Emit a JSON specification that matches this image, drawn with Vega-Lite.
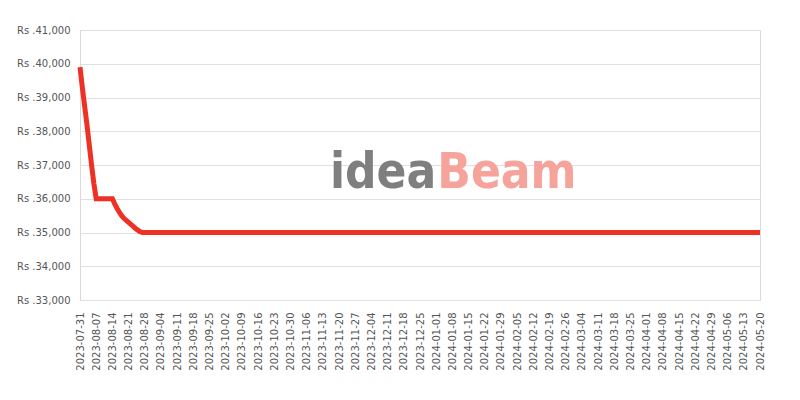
{
  "$schema": "https://vega.github.io/schema/vega-lite/v6.json",
  "width": 680,
  "height": 270,
  "autosize": {"type": "none"},
  "padding": {"left": 80, "top": 30, "right": 40, "bottom": 100},
  "config": {
    "view": {"stroke": "#d9d9d9", "strokeWidth": 1},
    "font": "DejaVu Sans",
    "axis": {"labelFont": "DejaVu Sans", "labelColor": "#555555", "labelFontSize": 10}
  },
  "datasets": {
    "prices": [
      {"date": "2023-07-31T00:00:00", "price": 39900},
      {"date": "2023-08-01T00:00:00", "price": 39300},
      {"date": "2023-08-02T00:00:00", "price": 38750},
      {"date": "2023-08-03T00:00:00", "price": 38200},
      {"date": "2023-08-04T00:00:00", "price": 37600},
      {"date": "2023-08-05T00:00:00", "price": 37000},
      {"date": "2023-08-06T00:00:00", "price": 36450},
      {"date": "2023-08-07T00:00:00", "price": 36000},
      {"date": "2023-08-08T00:00:00", "price": 36000},
      {"date": "2023-08-10T00:00:00", "price": 36000},
      {"date": "2023-08-12T00:00:00", "price": 36000},
      {"date": "2023-08-14T00:00:00", "price": 36000},
      {"date": "2023-08-15T00:00:00", "price": 35850},
      {"date": "2023-08-16T00:00:00", "price": 35720},
      {"date": "2023-08-17T00:00:00", "price": 35600},
      {"date": "2023-08-18T00:00:00", "price": 35500},
      {"date": "2023-08-19T00:00:00", "price": 35420},
      {"date": "2023-08-20T00:00:00", "price": 35360},
      {"date": "2023-08-21T00:00:00", "price": 35300},
      {"date": "2023-08-22T00:00:00", "price": 35240},
      {"date": "2023-08-23T00:00:00", "price": 35180},
      {"date": "2023-08-24T00:00:00", "price": 35120},
      {"date": "2023-08-25T00:00:00", "price": 35070},
      {"date": "2023-08-26T00:00:00", "price": 35020},
      {"date": "2023-08-27T00:00:00", "price": 35000},
      {"date": "2023-08-28T00:00:00", "price": 35000},
      {"date": "2023-09-04T00:00:00", "price": 35000},
      {"date": "2023-09-11T00:00:00", "price": 35000},
      {"date": "2023-09-18T00:00:00", "price": 35000},
      {"date": "2023-09-25T00:00:00", "price": 35000},
      {"date": "2023-10-02T00:00:00", "price": 35000},
      {"date": "2023-10-09T00:00:00", "price": 35000},
      {"date": "2023-10-16T00:00:00", "price": 35000},
      {"date": "2023-10-23T00:00:00", "price": 35000},
      {"date": "2023-10-30T00:00:00", "price": 35000},
      {"date": "2023-11-06T00:00:00", "price": 35000},
      {"date": "2023-11-13T00:00:00", "price": 35000},
      {"date": "2023-11-20T00:00:00", "price": 35000},
      {"date": "2023-11-27T00:00:00", "price": 35000},
      {"date": "2023-12-04T00:00:00", "price": 35000},
      {"date": "2023-12-11T00:00:00", "price": 35000},
      {"date": "2023-12-18T00:00:00", "price": 35000},
      {"date": "2023-12-25T00:00:00", "price": 35000},
      {"date": "2024-01-01T00:00:00", "price": 35000},
      {"date": "2024-01-08T00:00:00", "price": 35000},
      {"date": "2024-01-15T00:00:00", "price": 35000},
      {"date": "2024-01-22T00:00:00", "price": 35000},
      {"date": "2024-01-29T00:00:00", "price": 35000},
      {"date": "2024-02-05T00:00:00", "price": 35000},
      {"date": "2024-02-12T00:00:00", "price": 35000},
      {"date": "2024-02-19T00:00:00", "price": 35000},
      {"date": "2024-02-26T00:00:00", "price": 35000},
      {"date": "2024-03-04T00:00:00", "price": 35000},
      {"date": "2024-03-11T00:00:00", "price": 35000},
      {"date": "2024-03-18T00:00:00", "price": 35000},
      {"date": "2024-03-25T00:00:00", "price": 35000},
      {"date": "2024-04-01T00:00:00", "price": 35000},
      {"date": "2024-04-08T00:00:00", "price": 35000},
      {"date": "2024-04-15T00:00:00", "price": 35000},
      {"date": "2024-04-22T00:00:00", "price": 35000},
      {"date": "2024-04-29T00:00:00", "price": 35000},
      {"date": "2024-05-06T00:00:00", "price": 35000},
      {"date": "2024-05-13T00:00:00", "price": 35000},
      {"date": "2024-05-20T00:00:00", "price": 35000}
    ],
    "watermark1": [{"word": "idea", "date": "2024-01-01T00:00:00", "price": 36330}],
    "watermark2": [{"word": "Beam", "date": "2024-01-01T12:00:00", "price": 36330}]
  },
  "encoding": {
    "x": {
      "field": "date",
      "type": "temporal",
      "title": null,
      "scale": {"domain": [{"year": 2023, "month": 7, "date": 31}, {"year": 2024, "month": 5, "date": 20}]},
      "axis": {
        "values": [
          {"year": 2023, "month": 7, "date": 31},
          {"year": 2023, "month": 8, "date": 7},
          {"year": 2023, "month": 8, "date": 14},
          {"year": 2023, "month": 8, "date": 21},
          {"year": 2023, "month": 8, "date": 28},
          {"year": 2023, "month": 9, "date": 4},
          {"year": 2023, "month": 9, "date": 11},
          {"year": 2023, "month": 9, "date": 18},
          {"year": 2023, "month": 9, "date": 25},
          {"year": 2023, "month": 10, "date": 2},
          {"year": 2023, "month": 10, "date": 9},
          {"year": 2023, "month": 10, "date": 16},
          {"year": 2023, "month": 10, "date": 23},
          {"year": 2023, "month": 10, "date": 30},
          {"year": 2023, "month": 11, "date": 6},
          {"year": 2023, "month": 11, "date": 13},
          {"year": 2023, "month": 11, "date": 20},
          {"year": 2023, "month": 11, "date": 27},
          {"year": 2023, "month": 12, "date": 4},
          {"year": 2023, "month": 12, "date": 11},
          {"year": 2023, "month": 12, "date": 18},
          {"year": 2023, "month": 12, "date": 25},
          {"year": 2024, "month": 1, "date": 1},
          {"year": 2024, "month": 1, "date": 8},
          {"year": 2024, "month": 1, "date": 15},
          {"year": 2024, "month": 1, "date": 22},
          {"year": 2024, "month": 1, "date": 29},
          {"year": 2024, "month": 2, "date": 5},
          {"year": 2024, "month": 2, "date": 12},
          {"year": 2024, "month": 2, "date": 19},
          {"year": 2024, "month": 2, "date": 26},
          {"year": 2024, "month": 3, "date": 4},
          {"year": 2024, "month": 3, "date": 11},
          {"year": 2024, "month": 3, "date": 18},
          {"year": 2024, "month": 3, "date": 25},
          {"year": 2024, "month": 4, "date": 1},
          {"year": 2024, "month": 4, "date": 8},
          {"year": 2024, "month": 4, "date": 15},
          {"year": 2024, "month": 4, "date": 22},
          {"year": 2024, "month": 4, "date": 29},
          {"year": 2024, "month": 5, "date": 6},
          {"year": 2024, "month": 5, "date": 13},
          {"year": 2024, "month": 5, "date": 20}
        ],
        "format": "%Y-%m-%d",
        "labelAngle": -90,
        "labelAlign": "right",
        "labelBaseline": "middle",
        "labelPadding": 12,
        "labelOverlap": false,
        "labelFlush": false,
        "ticks": false,
        "domain": false,
        "grid": false
      }
    },
    "y": {
      "field": "price",
      "type": "quantitative",
      "title": null,
      "scale": {"domain": [33000, 41000], "nice": false, "zero": false},
      "axis": {
        "values": [33000, 34000, 35000, 36000, 37000, 38000, 39000, 40000, 41000],
        "labelExpr": "'Rs .' + format(datum.value, ',')",
        "labelPadding": 10,
        "labelOverlap": false,
        "labelFlush": false,
        "ticks": false,
        "domain": false,
        "grid": true,
        "gridColor": "#e0e0e0"
      }
    }
  },
  "layer": [
    {
      "data": {"name": "watermark1"},
      "mark": {"type": "text", "align": "right", "baseline": "alphabetic", "fontSize": 49, "fontWeight": "bold", "font": "DejaVu Sans Condensed", "color": "#7f7f7f"},
      "encoding": {"text": {"field": "word"}}
    },
    {
      "data": {"name": "watermark2"},
      "mark": {"type": "text", "align": "left", "baseline": "alphabetic", "fontSize": 49, "fontWeight": "bold", "font": "DejaVu Sans Condensed", "color": "#f5a39b"},
      "encoding": {"text": {"field": "word"}}
    },
    {
      "data": {"name": "prices"},
      "mark": {"type": "line", "color": "#ee3124", "strokeWidth": 5, "strokeJoin": "miter"}
    }
  ]
}
